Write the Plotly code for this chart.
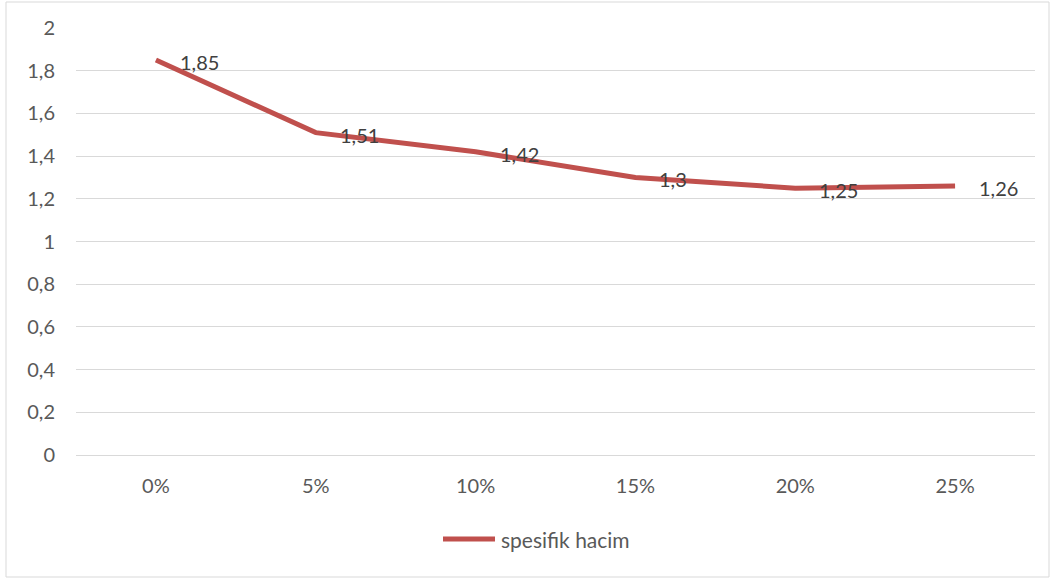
import plotly.graph_objects as go

categories = ["0%", "5%", "10%", "15%", "20%", "25%"]
values = [1.85, 1.51, 1.42, 1.30, 1.25, 1.26]
labels = ["1,85", "1,51", "1,42", "1,3", "1,25", "1,26"]
series_name = "spesifik hacim"
ytick_vals = [0, 0.2, 0.4, 0.6, 0.8, 1.0, 1.2, 1.4, 1.6, 1.8, 2.0]
ytick_text = ["0", "0,2", "0,4", "0,6", "0,8", "1", "1,2", "1,4", "1,6", "1,8", "2"]

FONT = "Lato, Calibri, Carlito, sans-serif"
TXT = "#595959"
RED = "#C0504D"
FS = 20

fig = go.Figure()
fig.add_trace(go.Scatter(
    x=categories, y=values, mode="lines", name=series_name,
    line=dict(color=RED, width=5), showlegend=False,
))

for c, v, t in zip(categories, values, labels):
    fig.add_annotation(x=c, y=v, text=t, showarrow=False, xanchor="left",
                       yanchor="middle", xshift=22, yshift=-2,
                       font=dict(family=FONT, size=FS, color="#404040"))

L, R, T, B = 76, 22, 28, 126
W, H = 1057, 581
pw, ph = W - L - R, H - T - B

def px(x):
    return (x - L) / pw

def py(y):
    return (H - B - y) / ph

# chart border
fig.add_shape(type="rect", xref="paper", yref="paper",
              x0=px(6), x1=px(1049), y0=py(577), y1=py(2),
              line=dict(color="#D9D9D9", width=1), layer="below")

# legend (drawn manually to match the long line sample)
fig.add_shape(type="line", xref="paper", yref="paper",
              x0=px(443), x1=px(495), y0=py(539), y1=py(539),
              line=dict(color=RED, width=5))
fig.add_annotation(xref="paper", yref="paper", x=px(499), y=py(539),
                   text=series_name, showarrow=False, xanchor="left", yanchor="middle",
                   font=dict(family=FONT, size=FS + 1, color=TXT))

fig.update_layout(
    width=W, height=H,
    margin=dict(l=L, r=R, t=T, b=B),
    paper_bgcolor="white", plot_bgcolor="white",
    font=dict(family=FONT, size=FS, color=TXT),
    showlegend=False,
    xaxis=dict(type="category", range=[-0.5, 5.5], showgrid=False, zeroline=False,
               showline=False, ticks="", ticklabelstandoff=17,
               tickfont=dict(family=FONT, size=FS, color=TXT)),
    yaxis=dict(range=[0, 2], tickvals=ytick_vals, ticktext=ytick_text,
               showgrid=True, gridcolor="#D9D9D9", gridwidth=1,
               zeroline=True, zerolinecolor="#D9D9D9", zerolinewidth=1,
               showline=False, ticks="", ticklabelstandoff=20,
               tickfont=dict(family=FONT, size=FS, color=TXT)),
)

fig.write_html("out.html", config={"displayModeBar": False},
               post_script="document.body.style.margin='0';document.body.style.padding='0';")
